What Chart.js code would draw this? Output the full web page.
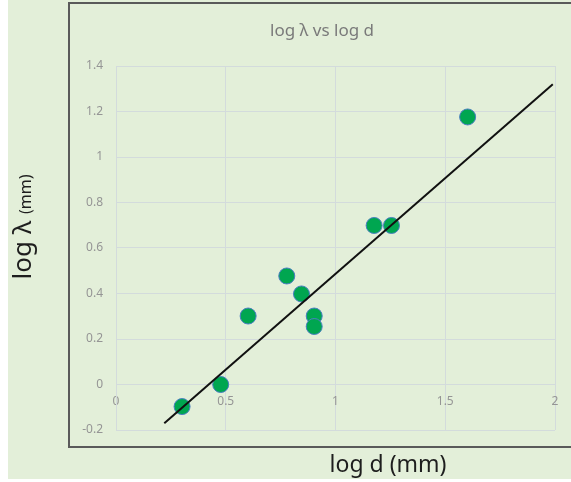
<!DOCTYPE html>
<html>
<head>
<meta charset="utf-8">
<script src="https://cdn.jsdelivr.net/npm/chart.js@4.4.1/dist/chart.umd.min.js"></script>
<style>
  html, body { margin: 0; padding: 0; background: #fff; }
</style>
</head>
<body>
<canvas id="plot-log" width="571" height="482"></canvas>
<script>
// measured points: log d against log lambda
let logD = [0.301, 0.477, 0.602, 0.778, 0.845, 0.903, 0.903, 1.176, 1.255, 1.602];
let logLambda = [-0.097, 0, 0.301, 0.477, 0.398, 0.301, 0.255, 0.699, 0.699, 1.176];

// straight line drawn through the data (two end points)
let fitX = [0.22, 1.99];
let fitY = [-0.17, 1.32];

let xTicks = [0, 0.5, 1, 1.5, 2];
let xTickLabels = ["0", "0.5", "1", "1.5", "2"];
let yTicks = [-0.2, 0, 0.2, 0.4, 0.6, 0.8, 1, 1.2, 1.4];
let yTickLabels = ["-0.2", "0", "0.2", "0.4", "0.6", "0.8", "1", "1.2", "1.4"];

let titleText = "log \u03bb vs log d";
let xTitle = "log d (mm)";
let yTitleMain = "log \u03bb";
let yTitleUnit = "(mm)";

const FONT = "'Noto Sans', 'DejaVu Sans', sans-serif";

let points = logD.map(function(x, i) { return { x: x, y: logLambda[i] }; });
let fitLine = fitX.map(function(x, i) { return { x: x, y: fitY[i] }; });

// background, frame and titles
const decorations = {
    id: 'decorations',
    beforeDraw: function(chart) {
        const c = chart.ctx;
        c.save();
        c.fillStyle = '#ffffff';
        c.fillRect(0, 0, chart.width, chart.height);
        c.fillStyle = '#e3efd9';
        c.fillRect(8, 0, chart.width - 8, 479);
        c.strokeStyle = '#5a5a5a';
        c.lineWidth = 2;
        c.beginPath();
        c.moveTo(chart.width + 2, 3);
        c.lineTo(69, 3);
        c.lineTo(69, 447);
        c.lineTo(chart.width + 2, 447);
        c.stroke();
        c.restore();
    },
    afterDraw: function(chart) {
        const c = chart.ctx;
        c.save();
        c.fillStyle = '#7a7a7a';
        c.font = '17px ' + FONT;
        c.textAlign = 'center';
        c.textBaseline = 'middle';
        c.fillText(titleText, 322, 31);

        c.fillStyle = '#1e1e1e';
        c.font = '23px ' + FONT;
        c.fillText(xTitle, 388, 465);

        // vertical title, reading bottom to top
        c.translate(31, 227);
        c.rotate(-Math.PI / 2);
        c.textAlign = 'left';
        c.textBaseline = 'alphabetic';
        c.font = '26px ' + FONT;
        const w1 = c.measureText(yTitleMain + ' ').width;
        c.font = '16px ' + FONT;
        const w2 = c.measureText(yTitleUnit).width;
        let start = -(w1 + w2) / 2;
        c.font = '26px ' + FONT;
        c.fillText(yTitleMain + ' ', start, 0);
        c.font = '16px ' + FONT;
        c.fillText(yTitleUnit, start + w1, 0);
        c.restore();
    }
};

var ctx = document.getElementById('plot-log').getContext('2d');

var graph = new Chart(ctx, {
    type: 'scatter',
    data: {
        datasets: [{
            type: 'line',
            data: fitLine,
            borderColor: '#111111',
            borderWidth: 2,
            pointRadius: 0,
            fill: false,
            order: 0
        }, {
            data: points,
            backgroundColor: '#00a650',
            borderColor: '#4a7ec2',
            borderWidth: 1,
            pointRadius: 8,
            pointHoverRadius: 8,
            order: 1
        }]
    },
    options: {
        responsive: false,
        animation: false,
        devicePixelRatio: 1,
        layout: {
            padding: { left: 60, top: 66, right: 16, bottom: 52 }
        },
        plugins: {
            legend: { display: false },
            tooltip: { enabled: false }
        },
        scales: {
            x: {
                type: 'linear',
                position: { y: 0 },
                min: 0,
                max: 2,
                afterBuildTicks: function(axis) {
                    axis.ticks = xTicks.map(function(v) { return { value: v }; });
                },
                grid: {
                    color: '#d3dbdc',
                    drawTicks: false
                },
                border: { color: '#d3dbdc' },
                ticks: {
                    padding: 10,
                    color: '#959595',
                    font: { family: FONT, size: 12 },
                    maxRotation: 0,
                    callback: function(value, index) {
                        return xTickLabels[index];
                    }
                }
            },
            y: {
                type: 'linear',
                min: -0.2,
                max: 1.4,
                afterBuildTicks: function(axis) {
                    axis.ticks = yTicks.map(function(v) { return { value: v }; });
                },
                afterFit: function(axis) {
                    axis.width = 56;
                },
                grid: {
                    color: '#d3dbdc',
                    drawTicks: false
                },
                border: { color: '#d3dbdc' },
                ticks: {
                    padding: 13,
                    color: '#959595',
                    font: { family: FONT, size: 12 },
                    callback: function(value, index) {
                        return yTickLabels[index];
                    }
                }
            }
        }
    },
    plugins: [decorations]
});
</script>
</body>
</html>
